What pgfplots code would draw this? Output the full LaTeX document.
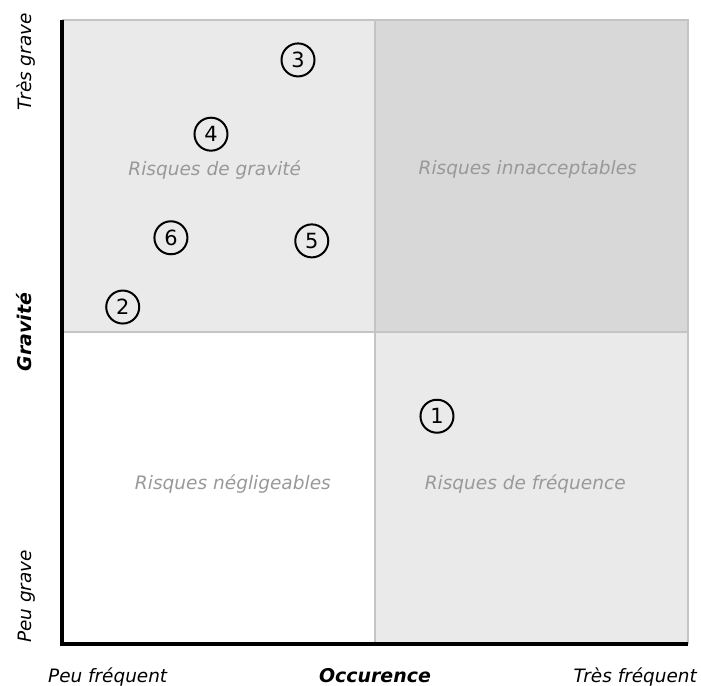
\documentclass[border=0pt]{standalone}
\usepackage{pgfplots}
\pgfplotsset{compat=1.18}
\usepackage{fontspec}
\setmainfont{DejaVu Sans}
\definecolor{qlight}{HTML}{EAEAEA}
\definecolor{qdark}{HTML}{D8D8D8}
\definecolor{qline}{HTML}{C4C4C4}
\definecolor{qtext}{HTML}{999999}
\begin{document}
\begin{tikzpicture}[x=1bp,y=1bp]
\begin{axis}[
  scale only axis, width=626bp, height=624bp,
  xmin=0, xmax=10, ymin=0, ymax=10,
  hide axis, clip=false,
]
\fill[qlight] (axis cs:0,5) rectangle (axis cs:5,10);
\fill[qdark] (axis cs:5,5) rectangle (axis cs:10,10);
\fill[qlight] (axis cs:5,0) rectangle (axis cs:10,5);
\draw[qline, line width=1.2bp] (axis cs:0,5) -- (axis cs:10,5);
\draw[qline, line width=1.2bp] (axis cs:5,0) -- (axis cs:5,10);
\draw[qline, line width=1.2bp] (axis cs:0,10) -- (axis cs:10,10) -- (axis cs:10,0);
\draw[black, line width=3bp] (axis cs:0,10) -- (axis cs:0,0) -- (axis cs:10,0);
\coordinate (O) at (rel axis cs:0,0);
\coordinate (T) at (rel axis cs:1,1);
\node[font=\fontsize{18.6}{20}\selectfont\itshape, text=qtext] at (axis cs:2.44,7.60) {Risques de gravité};
\node[font=\fontsize{18.6}{20}\selectfont\itshape, text=qtext] at (axis cs:7.44,7.60) {Risques innacceptables};
\node[font=\fontsize{18.6}{20}\selectfont\itshape, text=qtext] at (axis cs:2.73,2.56) {Risques négligeables};
\node[font=\fontsize{18.6}{20}\selectfont\itshape, text=qtext] at (axis cs:7.40,2.56) {Risques de fréquence};
\addplot[only marks, mark=o, mark size=16.5bp, mark options={line width=2bp, draw=black},
  point meta=explicit symbolic,
  nodes near coords, nodes near coords align={center},
  every node near coord/.append style={font=\fontsize{21}{22}\selectfont, text=black, anchor=center}]
  table[meta=label] {
x y label
5.99 3.65 1
0.97 5.40 2
3.77 9.36 3
2.38 8.17 4
3.99 6.46 5
1.74 6.51 6
};
\end{axis}
\begin{scope}[font=\fontsize{18.5}{20}\selectfont\itshape]
\node[rotate=90, anchor=base east, inner sep=0pt] at ([shift={(-31bp,7bp)}]O |- T) {Très grave};
\node[rotate=90, anchor=base west, inner sep=0pt] at ([shift={(-31bp,1bp)}]O) {Peu grave};
\node[rotate=90, anchor=base, inner sep=0pt, font=\fontsize{19}{20}\selectfont\bfseries\itshape] at ([shift={(-31bp,312bp)}]O) {Gravité};
\node[anchor=base west, inner sep=0pt] at ([shift={(-14bp,-38bp)}]O) {Peu fréquent};
\node[anchor=base, inner sep=0pt, font=\fontsize{19}{20}\selectfont\bfseries\itshape] at ([shift={(313bp,-38bp)}]O) {Occurence};
\node[anchor=base east, inner sep=0pt] at ([shift={(9bp,-38bp)}]T |- O) {Très fréquent};
\end{scope}
\path ([shift={(-62bp,-42bp)}]O) rectangle ([shift={(13bp,20bp)}]T);
\end{tikzpicture}
\end{document}
